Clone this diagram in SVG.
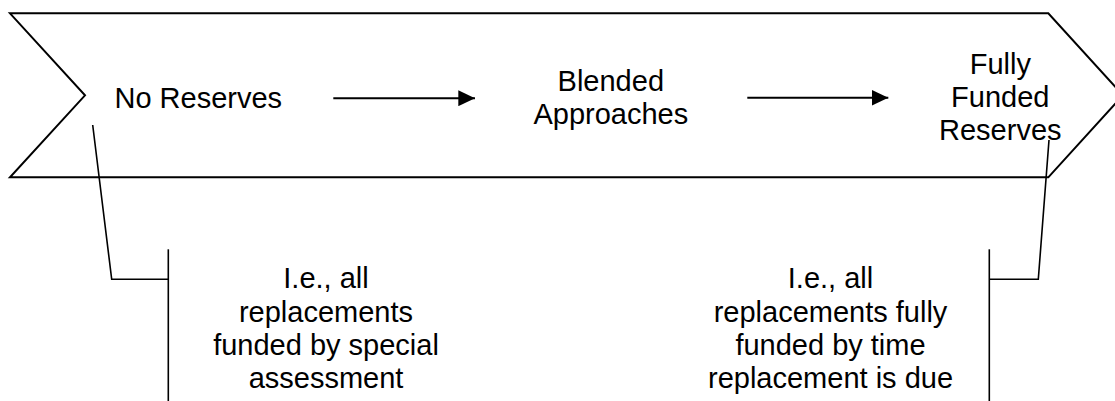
<svg xmlns="http://www.w3.org/2000/svg" width="1115" height="401" viewBox="0 0 1115 401">
<defs>
<style>
.t{font-family:"Liberation Sans",Arial,sans-serif;font-size:29px;fill:#000;text-anchor:middle}
.ln{fill:none;stroke:#000;stroke-width:2}
.ld{fill:none;stroke:#000;stroke-width:1.6}
</style>
<marker id="ah" markerWidth="17" markerHeight="16" refX="16.7" refY="8" orient="auto" markerUnits="userSpaceOnUse">
<path d="M0,0 L16.7,8 L0,16 Z" fill="#000"/>
</marker>
</defs>
<rect width="1115" height="401" fill="#fff"/>
<g id="chevron">
<polygon class="ln" fill="#fff" points="10,13.3 1048.3,13.3 1123,95.3 1048.3,177.3 10,177.3 85,95.3"/>
</g>
<g id="no-reserves">
<text class="t" x="198.3" y="107.7">No Reserves</text>
</g>
<g id="blended">
<text class="t" x="610.8" y="91">Blended</text>
<text class="t" x="610.8" y="124.3">Approaches</text>
</g>
<g id="fully-funded">
<text class="t" x="1000.3" y="73.5">Fully</text>
<text class="t" x="1000.3" y="106.8">Funded</text>
<text class="t" x="1000.3" y="140.1">Reserves</text>
</g>
<g id="note-left">
<text class="t" x="326" y="288.3">I.e., all</text>
<text class="t" x="326" y="321.7">replacements</text>
<text class="t" x="326" y="355">funded by special</text>
<text class="t" x="326" y="388.3">assessment</text>
</g>
<g id="note-right">
<text class="t" x="830.5" y="288.3">I.e., all</text>
<text class="t" x="830.5" y="321.7">replacements fully</text>
<text class="t" x="830.5" y="355">funded by time</text>
<text class="t" x="830.5" y="388.3">replacement is due</text>
</g>
<g id="connectors">
<line class="ln" x1="333.3" y1="98.2" x2="475" y2="98.2" marker-end="url(#ah)"/>
<line class="ln" x1="747.3" y1="97.8" x2="888.3" y2="97.8" marker-end="url(#ah)"/>
<polyline class="ld" points="92.7,125 111.7,279.3 168.3,279.3"/>
<line class="ld" x1="168.3" y1="249.3" x2="168.3" y2="401"/>
<polyline class="ld" points="1049,140 1038.3,279.3 989.3,279.3"/>
<line class="ld" x1="989.3" y1="249.3" x2="989.3" y2="401"/>
</g>
</svg>
